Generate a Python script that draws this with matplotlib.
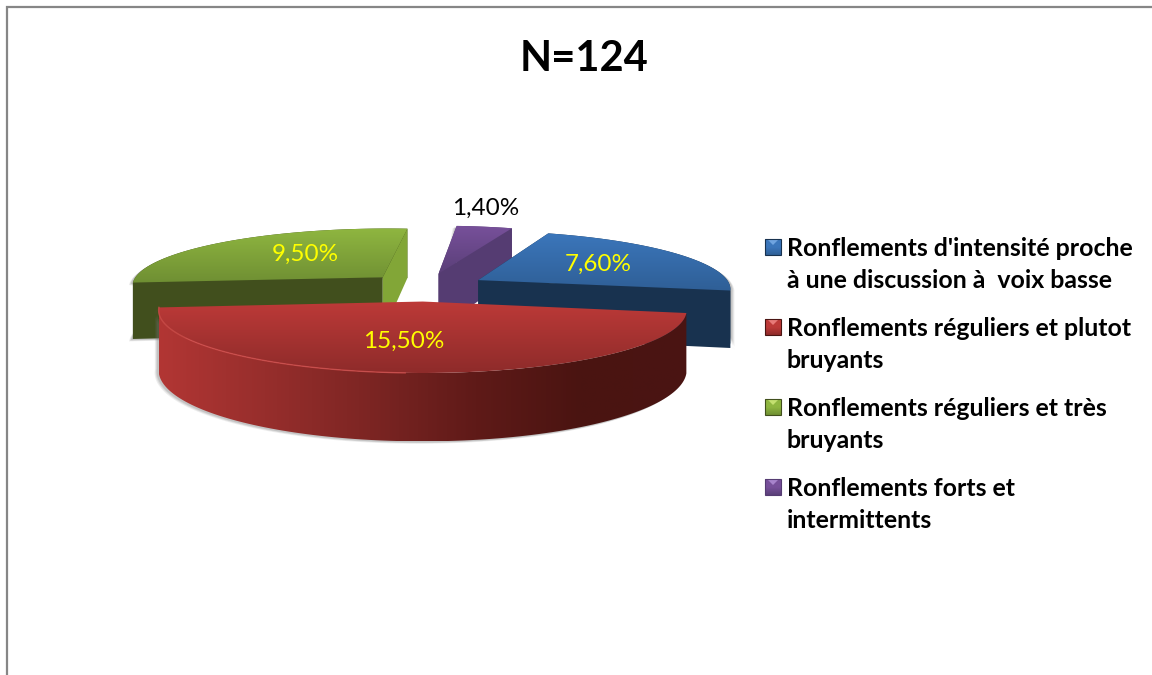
import numpy as np
import matplotlib
matplotlib.use('Agg')
import matplotlib.pyplot as plt
from matplotlib.patches import Polygon, Rectangle

# donnees
categories = ["Ronflements d'intensité proche\nà une discussion à  voix basse",
              "Ronflements réguliers et plutot\nbruyants",
              "Ronflements réguliers et très\nbruyants",
              "Ronflements forts et\nintermittents"]
values = [7.6, 15.5, 9.5, 1.4]
title = 'N=124'

# style: une entree par tranche
top_colors = [['#3b76bb', '#2f5f96'], ['#bd3a38', '#8e2b2a'],
              ['#8fb640', '#6f8f33'], ['#77509a', '#5a3f78']]
cut_colors = ['#18324f', '#4a1513', '#414f1d', '#553c72']
side_colors = ['#18324f', '#7f2624', '#82a637', '#553c72']
bevel_colors = ['#6fa4e0', '#e87a78', '#c4e070', '#a884cc']
label_colors = ['#ffff00', '#ffff00', '#ffff00', '#000000']
label_pos = [(598, 264), (404, 341), (305, 254), (486, 208)]
red_wall = ['#b23634', '#972e2c', '#7c2523', '#5f1a18', '#4a1411', '#4a1513']
font = 'Lato'

# geometrie du camembert 3D (en pixels de l'image)
cx, cy = 425.5, 287
radius = 253
squash = 0.228
persp = 7.5
explode = 0.244
depth = 57
start = 20


def project(x, y, z=0):
    k = persp / (persp + y)
    return np.column_stack([cx + radius * x * k,
                            cy - radius * squash * y * k + depth * z * k])


def grad_poly(ax, pts, colors, horizontal=False, zorder=1):
    rgb = np.array([matplotlib.colors.to_rgb(c) for c in colors])
    t = np.linspace(0, 1, 256)
    s = np.linspace(0, 1, len(colors))
    arr = np.column_stack([np.interp(t, s, rgb[:, i]) for i in range(3)])
    arr = arr[np.newaxis, :, :] if horizontal else arr[:, np.newaxis, :]
    patch = Polygon(pts, closed=True, fc='none', ec='none', zorder=zorder)
    ax.add_patch(patch)
    im = ax.imshow(arr, extent=(pts[:, 0].min(), pts[:, 0].max(),
                                pts[:, 1].max(), pts[:, 1].min()),
                   origin='upper', aspect='auto', zorder=zorder,
                   interpolation='bilinear')
    im.set_clip_path(patch)


fig = plt.figure(figsize=(11.52, 6.75), dpi=100)
ax = fig.add_axes([0, 0, 1, 1])

fracs = np.array(values) / sum(values) * 360
starts = start + np.concatenate([[0], np.cumsum(fracs)[:-1]])

# de l'arriere vers l'avant: violet, vert, bleu, rouge
z = 2
for i in [3, 2, 0, 1]:
    a0 = np.radians(starts[i])
    a1 = np.radians(starts[i] + fracs[i])
    mid = (a0 + a1) / 2
    ox, oy = explode * np.sin(mid), explode * np.cos(mid)
    a = np.linspace(a0, a1, 120)
    ax_x = ox + np.sin(a)
    ax_y = oy + np.cos(a)

    arc_top = project(ax_x, ax_y, 0)
    arc_bot = project(ax_x, ax_y, 1)
    apex_top = project(np.array([ox]), np.array([oy]), 0)
    apex_bot = project(np.array([ox]), np.array([oy]), 1)

    # ombre sous la tranche
    wall = np.vstack([arc_top, arc_bot[::-1]])
    for off, al in [(4, 0.12), (3, 0.16), (2, 0.2)]:
        shadow = np.vstack([apex_bot, arc_bot, arc_top[::-1]]) + [(-off if i != 0 else off), off * 0.6]
        ax.add_patch(Polygon(shadow, fc='#707070', ec='none', alpha=al, zorder=z))
    z += 1

    # faces coupees (cachees pour le rouge, dessinees avant la paroi)
    face0 = np.vstack([apex_top, arc_top[:1], arc_bot[:1], apex_bot])
    face1 = np.vstack([apex_top, arc_top[-1:], arc_bot[-1:], apex_bot])
    if i == 1:
        z += 1
    else:
        # paroi exterieure
        ax.add_patch(Polygon(wall, fc=cut_colors[i], ec='none', zorder=z))
        z += 1
        if i == 2:
            ax.add_patch(Polygon(face0, fc=cut_colors[i], ec='none', zorder=z))
            ax.add_patch(Polygon(face1, fc=side_colors[i], ec='none', zorder=z + 1))
        else:
            ax.add_patch(Polygon(face1, fc=cut_colors[i], ec='none', zorder=z))
            ax.add_patch(Polygon(face0, fc=cut_colors[i], ec='none', zorder=z + 1))
        z += 2

    if i == 1:
        grad_poly(ax, wall, red_wall, horizontal=True, zorder=z)
        z += 1

    # dessus
    top = np.vstack([apex_top, arc_top])
    grad_poly(ax, top, top_colors[i], zorder=z)
    z += 1

    if i == 1:
        rim = arc_top[60:]
        ax.plot(rim[:, 0], rim[:, 1], color='#cf4c4a', lw=1.0, alpha=0.8, zorder=z)
        z += 1

# etiquettes
for v, pos, col in zip(values, label_pos, label_colors):
    txt = f'{v:.2f}'.replace('.', ',') + '%'
    ax.text(pos[0], pos[1], txt, color=col, fontsize=17.5, family=font,
            ha='center', va='center', zorder=z)

# legende
legend_y = [247, 327, 407, 487]
for cat, y, cols, cut, bev in zip(categories, legend_y, top_colors, cut_colors, bevel_colors):
    grad_poly(ax, np.array([[765, y - 8], [781, y - 8], [781, y + 8], [765, y + 8]]),
              [cols[0], cols[0], cols[1]], zorder=z)
    ax.add_patch(Polygon([[768, y - 7], [778, y - 7], [773, y - 2]], fc=bev, ec='none', zorder=z + 1))
    ax.add_patch(Rectangle((765, y - 8), 16, 16, fc='none', ec=cut, lw=0.8, zorder=z + 1))
    for n, line in enumerate(cat.split('\n')):
        ax.text(787, y + 1.5 + n * 32, line, fontsize=17.9, family=font, weight='bold',
                color='#000000', ha='left', va='center', zorder=z)

ax.text(584, 59, title, fontsize=30, family=font, weight='bold', ha='center', va='center')

# cadre
ax.plot([7, 7, 1152], [675, 7, 7], color='#868686', lw=1.6, zorder=z, solid_joinstyle='miter')

ax.set_xlim(0, 1152)
ax.set_ylim(675, 0)
ax.axis('off')
fig.savefig('out.png', dpi=100, facecolor='white')
